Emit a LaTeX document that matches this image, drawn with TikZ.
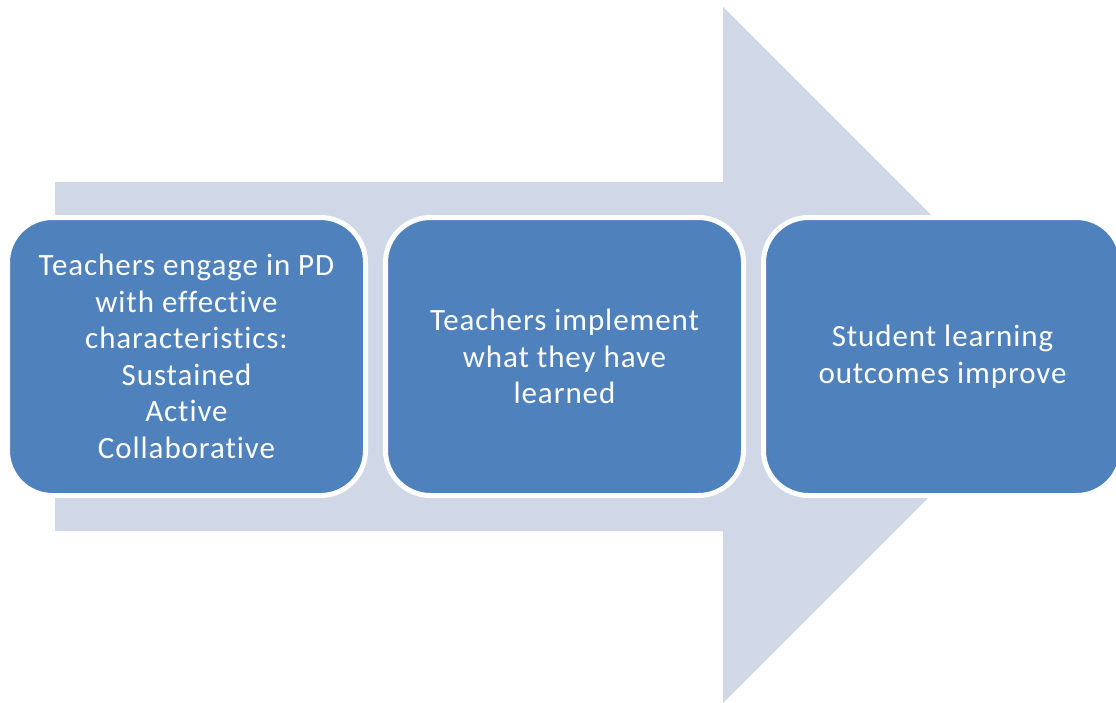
\documentclass[tikz,border=0pt]{standalone}
\usepackage{fontspec}
\setmainfont{Carlito}[Ligatures=NoCommon, LetterSpace=3]
\usepackage{tikz}
\usepackage{xcolor}
\usetikzlibrary{positioning}
\definecolor{boxblue}{HTML}{4F81BD}
\definecolor{arrowblue}{HTML}{D0D8E8}
\tikzset{
  stagebox/.style={rectangle, draw=white, line width=5pt, fill=boxblue,
    rounded corners=45pt, minimum width=358pt, minimum height=278pt,
    outer sep=0pt, text=white, align=center,
    font=\fontsize{31}{36.5}\selectfont},
	}

\begin{document}
\begin{tikzpicture}[x=1pt, y=-1pt]
    \useasboundingbox (0,0) rectangle (1116,702);
    % big arrow behind the stages
    \fill[arrowblue] (55,182) -- (723,182) -- (723,7) -- (1071,355)
        -- (723,703) -- (723,531) -- (55,531) -- cycle;
    \node[stagebox](engage) at (186.5,356.5){Teachers engage in PD\\with effective\\characteristics:\\Sustained\\Active\\Collaborative};
    \node[stagebox, right=20pt of engage](implement){Teachers implement\\what they have\\learned};
    \node[stagebox, right=20pt of implement](improve){Student learning\\outcomes improve};
  \end{tikzpicture}
\end{document}
